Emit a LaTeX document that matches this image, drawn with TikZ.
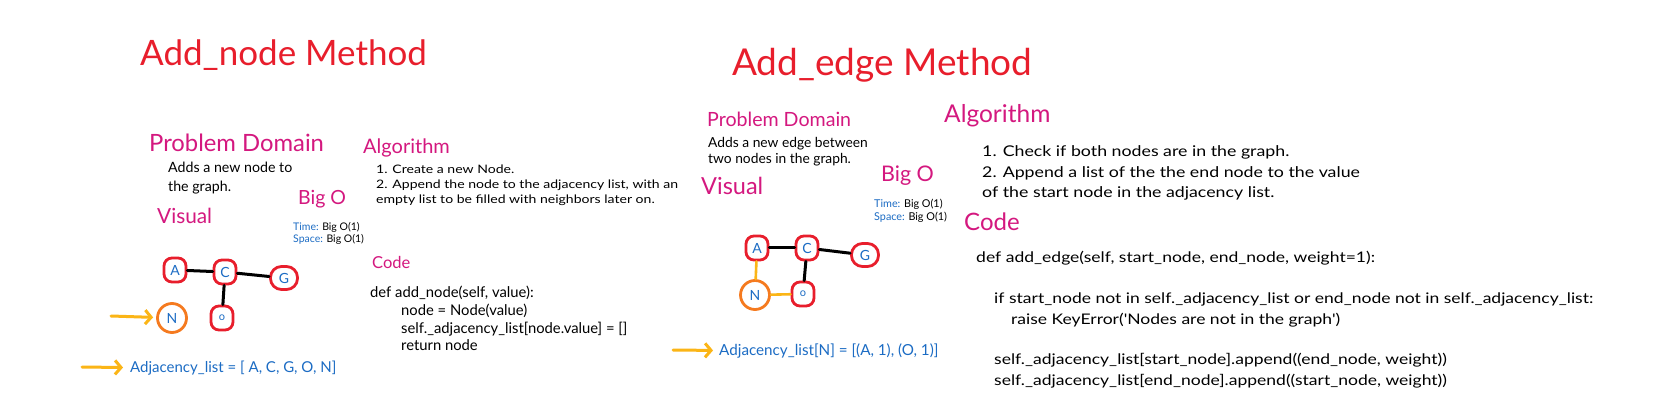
\documentclass[tikz,border=0pt]{standalone}
\usepackage{fontspec}
\setmainfont{Lato}
\newfontfamily\widefam[FakeStretch=1.2]{Lato}
\usetikzlibrary{arrows.meta,shapes.geometric}
\definecolor{tred}{HTML}{E81E2C}
\definecolor{tmag}{HTML}{D4187F}
\definecolor{tblue}{HTML}{1C6CC4}
\definecolor{torange}{HTML}{F57A1F}
\definecolor{tyellow}{HTML}{FBB516}
\newcommand\fs[1]{\fontsize{#1}{#1}\selectfont}
\newcommand\wfs[1]{\widefam\fontsize{#1}{#1}\selectfont}
\newcommand\tb[1]{{\color{tblue}#1}}
\begin{document}
\begin{tikzpicture}[x=1pt,y=-1pt,
  txt/.style={inner sep=0,anchor=base west,text=black},
  ttl/.style={txt,text=tred},
  hdr/.style={txt,text=tmag},
  gn/.style={draw=tred,line width=2.8pt,rounded corners=8pt,minimum width=22pt,minimum height=24pt,inner sep=0,text=tblue,font=\fs{14}},
  gg/.style={gn,rounded corners=11pt,minimum width=27pt,minimum height=23pt},
  nn/.style={circle,draw=torange,line width=2.8pt,minimum size=29pt,inner sep=0,text=tblue,font=\fs{14}},
  edge/.style={draw=black,line width=3pt,line cap=round},
  yedge/.style={draw=tyellow,line width=2.6pt,line cap=round},
  arr/.style={draw=tyellow,line width=3pt,line cap=round,-{Straight Barb[length=6pt,width=14pt]}}]
\useasboundingbox[fill=white] (0,0) rectangle (1669,419);

% ---------------- left: Add_node ----------------
\node[ttl,font=\fs{35}] (t1) at (140,66) {Add\_node Method};
\node[hdr,font=\fs{23.8}] (pd1) at (149,152) {Problem Domain};
\node[hdr,font=\fs{20}] (alg1) at (363,154) {Algorithm};
\node[txt,font=\fs{14.2}] (pdt1) at (168,173) {\vtop{\baselineskip=18.5pt\hbox{Adds a new node to}\hbox{the graph.}}};
\node[hdr,font=\fs{19.5}] (bigo1) at (298,205) {Big O};
\node[hdr,font=\fs{20.8}] (vis1) at (157,224) {Visual};
\node[txt,font=\fs{10.5}] (ts1) at (293,231) {\vtop{\baselineskip=12pt\hbox{\tb{Time:} Big O(1)}\hbox{\tb{Space:} Big O(1)}}};
\node[txt,font=\wfs{11.7}] (algt1) at (376,174) {\vtop{\baselineskip=15pt\hbox{1. Create a new Node.}\hbox{2. Append the node to the adjacency list, with an}\hbox{empty list to be filled with neighbors later on.}}};
\node[hdr,font=\fs{16.5}] (code1) at (372,269) {Code};
\node[txt,font=\fs{14.8}] (codet1) at (370,298) {\vtop{\baselineskip=17.6pt\hbox{def add\_node(self, value):}\hbox{\hspace*{31pt}node = Node(value)}\hbox{\hspace*{31pt}self.\_adjacency\_list[node.value] = []}\hbox{\hspace*{31pt}return node}}};
\node[txt,text=tblue,font=\fs{15}] (adj1) at (130,372) {Adjacency\_list = [ A, C, G, O, N]};

\node[gn] (a1) at (175,270) {A};
\node[gn] (c1) at (225,272) {C};
\node[gg] (g1) at (284,278) {G};
\node[gn,font=\fs{11}] (o1) at (222,318) {o};
\node[nn] (n1) at (172,318) {N};
\draw[edge] (a1) -- (c1);
\draw[edge] (c1) -- (g1);
\draw[edge] (c1) -- (o1);
\coordinate (an1) at (111,316);
\draw[arr,shorten >=3pt] (an1) -- (n1);
\coordinate (aa1) at (82,367);
\draw[arr,shorten >=7pt] (aa1) -- (adj1.west);

% ---------------- right: Add_edge ----------------
\node[ttl,font=\fs{37}] (t2) at (732,76) {Add\_edge Method};
\node[hdr,font=\fs{19.6}] (pd2) at (707,127) {Problem Domain};
\node[hdr,font=\fs{24.5}] (alg2) at (944,123) {Algorithm};
\node[txt,font=\fs{13.8}] (pdt2) at (708,148) {\vtop{\baselineskip=15.5pt\hbox{Adds a new edge between}\hbox{two nodes in the graph.}}};
\node[hdr,font=\fs{21.5}] (bigo2) at (881,182) {Big O};
\node[hdr,font=\fs{23.5}] (vis2) at (701,195) {Visual};
\node[txt,font=\fs{10.8}] (ts2) at (874,208) {\vtop{\baselineskip=13pt\hbox{\tb{Time:} Big O(1)}\hbox{\tb{Space:} Big O(1)}}};
\node[txt,font=\wfs{14.8}] (algt2) at (982,157) {\vtop{\baselineskip=20.5pt\hbox{1. Check if both nodes are in the graph.}\hbox{2. Append a list of the the end node to the value}\hbox{of the start node in the adjacency list.}}};
\node[hdr,font=\fs{24}] (code2) at (964,231) {Code};
\node[txt,font=\wfs{14.6}] (codet2) at (976,263) {\vtop{\baselineskip=20.4pt\hbox{def add\_edge(self, start\_node, end\_node, weight=1):}\hbox{}\hbox{\hspace*{18pt}if start\_node not in self.\_adjacency\_list or end\_node not in self.\_adjacency\_list:}\hbox{\hspace*{35pt}raise KeyError('Nodes are not in the graph')}\hbox{}\hbox{\hspace*{18pt}self.\_adjacency\_list[start\_node].append((end\_node, weight))}\hbox{\hspace*{18pt}self.\_adjacency\_list[end\_node].append((start\_node, weight))}}};
\node[txt,text=tblue,font=\fs{15.2}] (adj2) at (719,355) {Adjacency\_list[N] = [(A, 1), (O, 1)]};

\node[gn] (a2) at (757,248) {A};
\node[gn] (c2) at (807,248) {C};
\node[gg] (g2) at (865,255) {G};
\node[gn,font=\fs{11}] (o2) at (803,294) {o};
\node[nn] (n2) at (755,295) {N};
\draw[edge] (a2) -- (c2);
\draw[edge] (c2) -- (g2);
\draw[edge] (c2) -- (o2);
\draw[yedge] (a2) -- (n2);
\draw[yedge] (n2) -- (o2);
\coordinate (aa2) at (673,350);
\draw[arr,shorten >=6pt] (aa2) -- (adj2.west);
\end{tikzpicture}
\end{document}
